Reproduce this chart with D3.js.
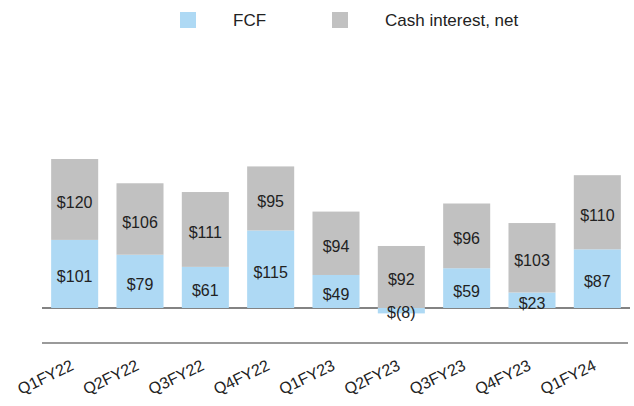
<!DOCTYPE html>
<html>
<head>
<meta charset="utf-8">
<script src="https://cdn.jsdelivr.net/npm/d3@7/dist/d3.min.js"></script>
<style>
  body { margin: 0; background: #fff; }
  svg text { font-family: "Liberation Sans", Arial, sans-serif; fill: #222; }
</style>
</head>
<body>
<div id="chart"></div>
<script>
// data
const quarters = ["Q1FY22", "Q2FY22", "Q3FY22", "Q4FY22", "Q1FY23", "Q2FY23", "Q3FY23", "Q4FY23", "Q1FY24"];
const fcf = [101, 79, 61, 115, 49, -8, 59, 23, 87];
const cashInterest = [120, 106, 111, 95, 94, 92, 96, 103, 110];
const seriesNames = ["FCF", "Cash interest, net"];
const colors = ["#aed9f4", "#c1c1c1"];

const width = 634, height = 406;
const fmt = v => v < 0 ? "$(" + Math.abs(v) + ")" : "$" + v;

const svg = d3.select("#chart").append("svg")
  .attr("width", width)
  .attr("height", height);

const x = d3.scaleBand()
  .domain(quarters)
  .range([42, 630])
  .paddingInner(0.28)
  .paddingOuter(0.14);

const y = d3.scaleLinear()
  .domain([0, 221])
  .range([308, 159]);

// baseline behind bars
svg.append("line")
  .attr("x1", 42).attr("x2", 630)
  .attr("y1", y(0)).attr("y2", y(0))
  .attr("stroke", "#5a5a5a")
  .attr("stroke-width", 1.5);

// stacked bars: fcf from 0, interest on top of positive fcf
const rows = quarters.map((q, i) => ({
  q: q,
  fcf: fcf[i],
  ci: cashInterest[i],
  base: Math.max(0, fcf[i])
}));

const g = svg.selectAll("g.bar")
  .data(rows)
  .enter().append("g")
  .attr("class", "bar");

g.append("rect")
  .attr("x", d => x(d.q))
  .attr("width", x.bandwidth())
  .attr("y", d => y(Math.max(0, d.fcf)))
  .attr("height", d => Math.abs(y(d.fcf) - y(0)))
  .attr("fill", colors[0]);

g.append("rect")
  .attr("x", d => x(d.q))
  .attr("width", x.bandwidth())
  .attr("y", d => y(d.base + d.ci))
  .attr("height", d => y(d.base) - y(d.base + d.ci))
  .attr("fill", colors[1]);

// value labels
g.append("text")
  .attr("x", d => x(d.q) + x.bandwidth() / 2)
  .attr("y", d => d.fcf < 0 ? y(d.fcf) - 1 : (y(0) + y(d.fcf)) / 2 + 3)
  .attr("dominant-baseline", "central")
  .attr("text-anchor", "middle")
  .style("font-size", "16px")
  .text(d => fmt(d.fcf));

g.append("text")
  .attr("x", d => x(d.q) + x.bandwidth() / 2)
  .attr("y", d => (y(d.base) + y(d.base + d.ci)) / 2 + 3)
  .attr("dominant-baseline", "central")
  .attr("text-anchor", "middle")
  .style("font-size", "16px")
  .text(d => fmt(d.ci));

// x axis line and rotated labels
svg.append("line")
  .attr("x1", 42).attr("x2", 628)
  .attr("y1", 343).attr("y2", 343)
  .attr("stroke", "#9a9a9a")
  .attr("stroke-width", 2);

svg.selectAll("text.xlab")
  .data(quarters)
  .enter().append("text")
  .attr("class", "xlab")
  .attr("text-anchor", "end")
  .attr("transform", d => `translate(${x(d) + x.bandwidth() / 2},369) rotate(-26)`)
  .style("font-size", "16px")
  .text(d => d);

// legend
const legendX = [180, 332];
const legendTextX = [233, 385];
const legend = svg.selectAll("g.legend")
  .data(seriesNames)
  .enter().append("g")
  .attr("class", "legend");

legend.append("rect")
  .attr("x", (d, i) => legendX[i])
  .attr("y", 12)
  .attr("width", 16)
  .attr("height", 16)
  .attr("fill", (d, i) => colors[i]);

legend.append("text")
  .attr("x", (d, i) => legendTextX[i])
  .attr("y", 20)
  .attr("dominant-baseline", "central")
  .style("font-size", "17px")
  .text(d => d);
</script>
</body>
</html>
